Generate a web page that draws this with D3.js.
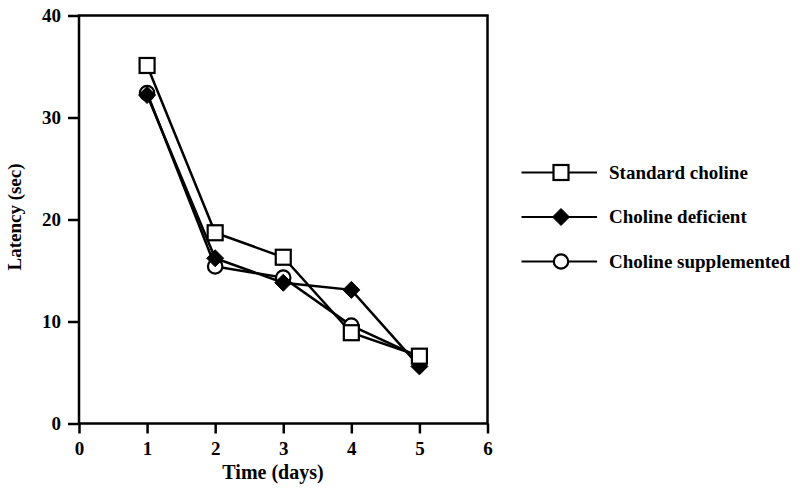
<!DOCTYPE html>
<html><head><meta charset="utf-8">
<script src="https://cdn.jsdelivr.net/npm/d3@7"></script>
<style>body{margin:0;background:#fff}svg{display:block}</style>
</head><body>
<svg id="c" width="800" height="489"></svg>
<script>
const days = [1, 2, 3, 4, 5];
const standardCholine = [35.1, 18.7, 16.3, 8.9, 6.6];
const cholineDeficient = [32.2, 16.2, 13.8, 13.1, 5.6];
const cholineSupplemented = [32.4, 15.4, 14.3, 9.6, 6.5];
const seriesNames = ["Standard choline", "Choline deficient", "Choline supplemented"];
const xTicks = [0, 1, 2, 3, 4, 5, 6];
const yTicks = [0, 10, 20, 30, 40];

const svg = d3.select("#c");
const font = "'Liberation Serif', 'Times New Roman', serif";
const x = d3.scaleLinear().domain([0, 6]).range([79, 487.5]);
const y = d3.scaleLinear().domain([0, 40]).range([423.5, 15.5]);

// frame
svg.append("rect").attr("x", x(0)).attr("y", y(40)).attr("width", x(6) - x(0)).attr("height", y(0) - y(40))
  .attr("fill", "none").attr("stroke", "#000").attr("stroke-width", 2.5);

const xAxis = svg.append("g").attr("transform", `translate(0,${y(0)})`)
  .call(d3.axisBottom(x).tickValues(xTicks).tickFormat(d3.format("d")).tickSize(10).tickPadding(8));
const yAxis = svg.append("g").attr("transform", `translate(${x(0)},0)`)
  .call(d3.axisLeft(y).tickValues(yTicks).tickFormat(d3.format("d")).tickSize(11).tickPadding(7));
[xAxis, yAxis].forEach(a => {
  a.select(".domain").remove();
  a.selectAll(".tick line").attr("stroke", "#000").attr("stroke-width", 2.5);
  a.selectAll(".tick text").attr("fill", "#000").style("font-family", font)
    .style("font-weight", "bold").style("font-size", "19px");
});

svg.append("text").attr("x", 273).attr("y", 479).attr("text-anchor", "middle")
  .style("font-family", font).style("font-weight", "bold").style("font-size", "20px").text("Time (days)");
svg.append("text").attr("transform", "translate(21,217) rotate(-90)").attr("text-anchor", "middle")
  .style("font-family", font).style("font-weight", "bold").style("font-size", "19px").text("Latency (sec)");

const series = [
  {name: seriesNames[2], vals: cholineSupplemented, shape: "circle"},
  {name: seriesNames[1], vals: cholineDeficient, shape: "diamond"},
  {name: seriesNames[0], vals: standardCholine, shape: "square"}
];

function marker(g, shape, cx, cy) {
  if (shape === "square") {
    g.append("rect").attr("x", cx - 7.5).attr("y", cy - 7.5).attr("width", 15).attr("height", 15)
      .attr("fill", "#fff").attr("stroke", "#000").attr("stroke-width", 2.2);
  } else if (shape === "circle") {
    g.append("circle").attr("cx", cx).attr("cy", cy).attr("r", 7.2)
      .attr("fill", "#fff").attr("stroke", "#000").attr("stroke-width", 2.2);
  } else {
    const s = 8.5;
    g.append("path").attr("d", `M${cx},${cy - s}L${cx + s},${cy}L${cx},${cy + s}L${cx - s},${cy}Z`)
      .attr("fill", "#000").attr("stroke", "#000").attr("stroke-width", 1);
  }
}

const line = d3.line().x(d => x(d[0])).y(d => y(d[1]));
series.forEach(s => {
  const pts = days.map((d, i) => [d, s.vals[i]]);
  svg.append("path").attr("d", line(pts)).attr("fill", "none").attr("stroke", "#000").attr("stroke-width", 2.5);
});
series.forEach(s => {
  const g = svg.append("g");
  days.forEach((d, i) => marker(g, s.shape, x(d), y(s.vals[i])));
});

// legend
const legendRows = [
  {name: seriesNames[0], shape: "square"},
  {name: seriesNames[1], shape: "diamond"},
  {name: seriesNames[2], shape: "circle"}
];
legendRows.forEach((r, i) => {
  const ly = 172.5 + i * 44.5;
  const g = svg.append("g");
  g.append("line").attr("x1", 521.5).attr("x2", 597).attr("y1", ly).attr("y2", ly)
    .attr("stroke", "#000").attr("stroke-width", 2);
  marker(g, r.shape, 561, ly);
  g.append("text").attr("x", 609).attr("y", ly + 6).style("font-family", font)
    .style("font-weight", "bold").style("font-size", "19px").text(r.name);
});
</script>
</body></html>
